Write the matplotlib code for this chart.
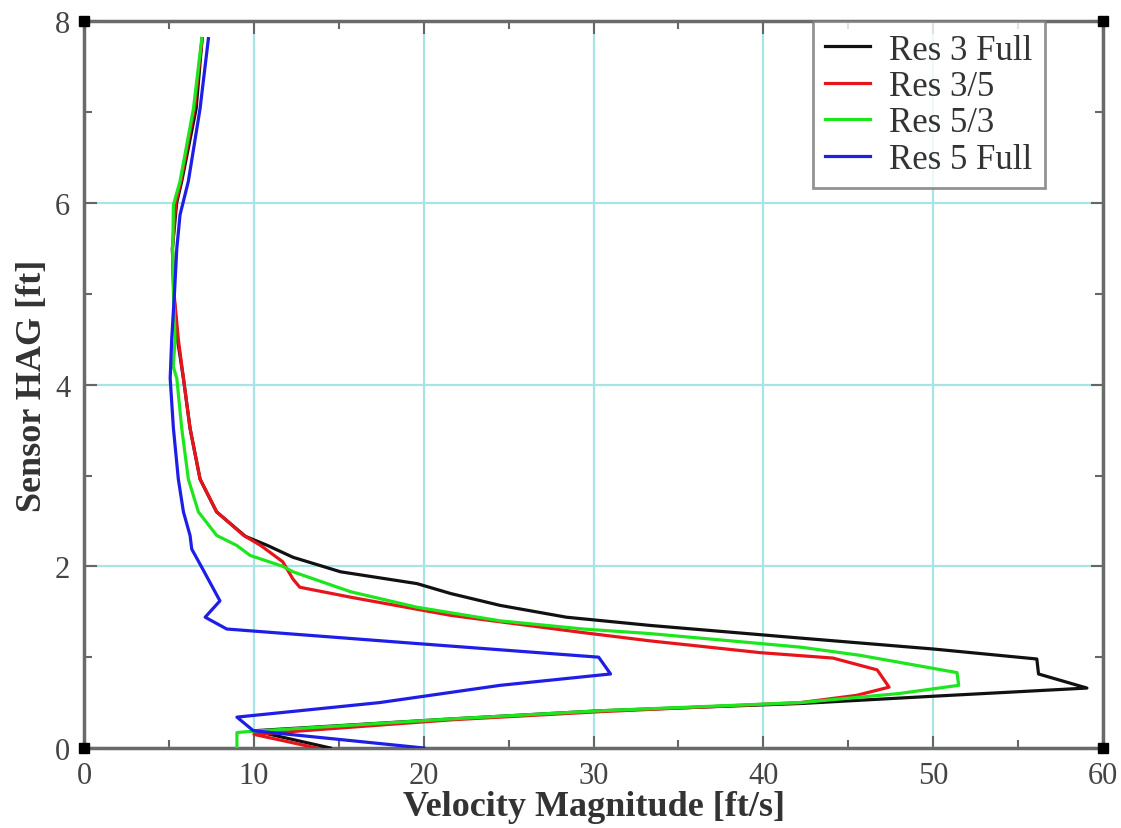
import numpy as np
import matplotlib
matplotlib.use('Agg')
from matplotlib import pyplot as plt

""" data read off the reference (velocity [ft/s] vs height [ft]) """
# --- Res 3 Full
res3_full_v = [14.5, 10.0, 21.6, 30.4, 42.2, 50.0, 59.05, 56.2, 56.1, 50.0, 42.2, 33.3, 28.4, 24.5,
               21.6, 19.6, 15.1, 12.3, 10.8, 9.5, 7.8, 6.83, 6.24, 5.85, 5.5, 5.28, 5.2, 5.45, 5.75, 6.6, 6.95]
res3_full_h = [0.0, 0.19, 0.32, 0.41, 0.49, 0.57, 0.66, 0.815, 0.98, 1.09, 1.21, 1.35, 1.44, 1.57,
               1.70, 1.81, 1.94, 2.10, 2.23, 2.33, 2.60, 2.96, 3.52, 4.07, 4.5, 5.0, 5.5, 6.0, 6.24, 7.04, 7.81]
# --- Res 3/5
res35_v = [13.7, 10.0, 21.6, 30.4, 42.2, 45.5, 47.4, 46.7, 44.1, 39.8, 33.3, 29.4, 21.6, 15.7, 12.7,
           12.3, 11.7, 10.4, 9.4, 7.81, 6.83, 6.24, 5.85, 5.55, 5.3, 5.2, 5.4, 5.7, 6.5, 6.95]
res35_h = [0.0, 0.15, 0.31, 0.40, 0.50, 0.58, 0.67, 0.86, 0.99, 1.05, 1.18, 1.27, 1.46, 1.66, 1.77,
           1.86, 2.05, 2.23, 2.34, 2.60, 2.96, 3.52, 4.07, 4.5, 5.0, 5.5, 6.0, 6.24, 7.04, 7.81]
# --- Res 5/3
res53_v = [9.0, 9.0, 9.6, 21.6, 30.4, 42.2, 48.0, 51.5, 51.4, 45.7, 42.2, 33.3, 29.4, 24.5, 19.6,
           15.7, 12.3, 11.7, 9.78, 8.99, 7.81, 6.73, 6.14, 5.75, 5.46, 5.25, 5.36, 5.26, 5.22, 5.26,
           5.65, 6.44, 6.93]
res53_h = [0.0, 0.17, 0.18, 0.32, 0.41, 0.50, 0.60, 0.69, 0.83, 1.02, 1.11, 1.26, 1.31, 1.40, 1.55,
           1.72, 1.94, 2.00, 2.12, 2.23, 2.34, 2.60, 2.96, 3.52, 4.07, 4.2, 4.5, 5.0, 5.5, 5.98,
           6.24, 7.04, 7.81]
# --- Res 5 Full
res5_full_v = [20.0, 9.97, 9.0, 17.4, 24.5, 31.0, 30.3, 19.6, 8.4, 7.13, 8.0, 6.9, 6.34, 6.24, 5.85,
               5.55, 5.26, 5.07, 5.16, 5.32, 5.46, 5.65, 6.14, 6.83, 7.32]
res5_full_h = [0.0, 0.19, 0.34, 0.50, 0.69, 0.815, 1.0, 1.15, 1.31, 1.44, 1.62, 2.0, 2.19, 2.34, 2.60,
               2.96, 3.52, 4.07, 4.5, 5.0, 5.5, 5.87, 6.24, 7.04, 7.81]

labels = ['Res 3 Full', 'Res 3/5', 'Res 5/3', 'Res 5 Full']
colors = ['#111111', '#e8141c', '#1ee61e', '#1e1ee6']

x_ticks = [0, 10, 20, 30, 40, 50, 60]
y_ticks = [0, 2, 4, 6, 8]

plt.rcParams['font.family'] = ['Liberation Serif', 'DejaVu Serif']

fig = plt.figure(figsize=(11.21, 8.29), dpi=100)
ax = fig.add_axes([0.075, 0.0965, 0.909, 0.8765])

series = [(res3_full_v, res3_full_h), (res35_v, res35_h), (res53_v, res53_h), (res5_full_v, res5_full_h)]
for (v, h), lab, col in zip(series, labels, colors):
    ax.plot(v, h, color=col, lw=2.3, label=lab, zorder=3)

ax.set_xlim(0, 60)
ax.set_ylim(0, 8)
ax.set_xticks(x_ticks)
ax.set_yticks(y_ticks)
ax.set_xticks(np.arange(5, 60, 10), minor=True)
ax.set_yticks(np.arange(1, 8, 2), minor=True)
ax.grid(True, which='major', color='#a8e4e4', lw=1.6, zorder=0)
ax.tick_params(which='both', direction='in', top=True, right=True, colors='#666666',
               labelcolor='#444444', labelsize=22, width=1.5)
ax.tick_params(which='major', length=9)
ax.tick_params(axis='x', which='major', pad=9)
ax.tick_params(axis='y', which='major', pad=10)
ax.tick_params(which='minor', length=6)
for sp in ax.spines.values():
    sp.set_color('#6a6a6a')
    sp.set_linewidth(2.5)

# corner markers like the original plotting program
xl, yl = ax.get_xlim(), ax.get_ylim()
ax.plot([xl[0], xl[1], xl[0], xl[1]], [yl[0], yl[0], yl[1], yl[1]], ls='none', marker='s',
        ms=7, color='black', clip_on=False, zorder=5)

ax.set_xlabel('Velocity Magnitude [ft/s]', fontsize=26, fontweight='bold', color='#333333', labelpad=0)
ax.set_ylabel('Sensor HAG [ft]', fontsize=26, fontweight='bold', color='#333333', labelpad=4)

leg = ax.legend(loc='upper right', bbox_to_anchor=(0.943, 1.0), fontsize=25, frameon=True, fancybox=False,
                handlelength=1.3, handletextpad=0.55, labelspacing=0.1, borderpad=0.35, borderaxespad=0)
leg.get_frame().set_edgecolor('#777777')
leg.get_frame().set_linewidth(2.0)
for t in leg.get_texts():
    t.set_color('#333333')

fig.savefig('out.png', dpi=100)
